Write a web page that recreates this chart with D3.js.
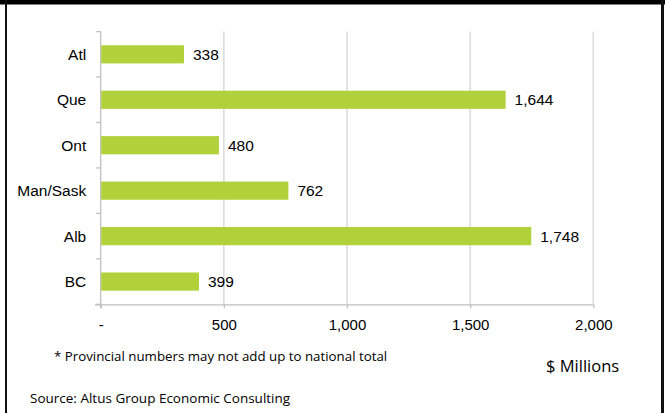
<!DOCTYPE html>
<html>
<head>
<meta charset="utf-8">
<script src="https://cdn.jsdelivr.net/npm/d3@7"></script>
<style>
html,body{margin:0;padding:0;background:#fff;}
svg{display:block;}
</style>
</head>
<body>
<svg id="chart" width="665" height="413"></svg>
<script>
const categories = ["Atl", "Que", "Ont", "Man/Sask", "Alb", "BC"];
const values = [338, 1644, 480, 762, 1748, 399];
const tickValues = [0, 500, 1000, 1500, 2000];
const tickLabels = ["-", "500", "1,000", "1,500", "2,000"];
const footnote = "* Provincial numbers may not add up to national total";
const unitLabel = "$ Millions";
const sourceText = "Source: Altus Group Economic Consulting";

const svg = d3.select("#chart");
const W = 665, H = 413;

// frame
svg.append("rect").attr("x",0).attr("y",0).attr("width",W).attr("height",4.5).attr("fill","#000");
svg.append("rect").attr("x",5).attr("y",0).attr("width",2).attr("height",H).attr("fill","#111");
svg.append("rect").attr("x",661).attr("y",0).attr("width",3).attr("height",H).attr("fill","#111");

const x = d3.scaleLinear().domain([0,2000]).range([100.7,593.3]);
const y = d3.scaleBand().domain(categories).range([31.6,304.3]).paddingInner(0.6).paddingOuter(0.3);
const yb = d3.scaleBand().domain(categories).range([31.6,304.3]);

// gridlines
svg.append("g").selectAll("line").data(tickValues.slice(1)).join("line")
  .attr("x1",d=>x(d)).attr("x2",d=>x(d)).attr("y1",31.6).attr("y2",304.3)
  .attr("stroke","#d9d9d9").attr("stroke-width",1.5);

// x axis
const xAxis = d3.axisBottom(x).tickValues(tickValues).tickFormat((d,i)=>tickLabels[i]).tickSize(4).tickSizeOuter(0);
const gx = svg.append("g").attr("transform","translate(0,304.3)").call(xAxis);
gx.select(".domain").attr("d","M95,0.5H593.3").attr("stroke","#bfbfbf").attr("stroke-width",1.3);
gx.selectAll(".tick line").attr("stroke","#bfbfbf").attr("stroke-width",1.3);
gx.selectAll(".tick text").attr("fill","#000").attr("font-family","Liberation Sans, Arial, sans-serif")
  .attr("font-size","15px").attr("dy","0").attr("y",26);

// y axis
const gy = svg.append("g").attr("transform","translate(100.7,0)");
gy.append("line").attr("x1",0).attr("x2",0).attr("y1",31.6).attr("y2",308.3).attr("stroke","#bfbfbf").attr("stroke-width",1.3);
const boundaries = categories.map(c=>yb(c)).concat([304.3]);
gy.selectAll("line.tk").data(boundaries).join("line").attr("class","tk")
  .attr("x1",-4.5).attr("x2",0).attr("y1",d=>d).attr("y2",d=>d).attr("stroke","#bfbfbf").attr("stroke-width",1.3);
gy.selectAll("text").data(categories).join("text")
  .attr("x",-14.5).attr("y",d=>yb(d)+yb.bandwidth()/2).attr("dy","0.36em")
  .attr("text-anchor","end").attr("font-family","Liberation Sans, Arial, sans-serif").attr("font-size","15.5px")
  .attr("fill","#000").text(d=>d);

// bars
svg.append("g").selectAll("rect").data(values).join("rect")
  .attr("x",x(0)+0.5).attr("y",(d,i)=>y(categories[i]))
  .attr("width",d=>x(d)-x(0)-0.5).attr("height",y.bandwidth())
  .attr("fill","#b1d13b");

// value labels
svg.append("g").selectAll("text").data(values).join("text")
  .attr("x",d=>x(d)+9).attr("y",(d,i)=>yb(categories[i])+yb.bandwidth()/2).attr("dy","0.36em")
  .attr("font-family","Liberation Sans, Arial, sans-serif").attr("font-size","15.5px").attr("fill","#000")
  .text(d=>d3.format(",")(d));

// notes
svg.append("text").attr("x",54).attr("y",361).attr("font-family","Open Sans, sans-serif").attr("font-size","13.3px").attr("fill","#000").text(footnote);
svg.append("text").attr("x",546).attr("y",372).attr("font-family","Open Sans, sans-serif").attr("font-size","16.5px").attr("fill","#000").text(unitLabel);
svg.append("text").attr("x",30).attr("y",403).attr("font-family","Open Sans, sans-serif").attr("font-size","13.5px").attr("fill","#000").text(sourceText);
</script>
</body>
</html>
